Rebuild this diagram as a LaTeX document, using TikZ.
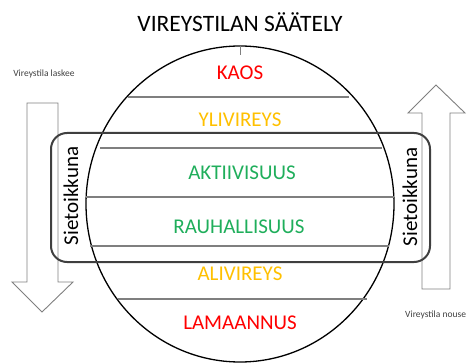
\documentclass[tikz,border=0pt]{standalone}
\usepackage{fontspec}
\setmainfont{Carlito}
\definecolor{punainen}{HTML}{FF0000}
\definecolor{keltainen}{HTML}{FFC000}
\definecolor{vihrea}{HTML}{1FAE5B}
\definecolor{harmaa}{HTML}{7F7F7F}
\definecolor{tumma}{HTML}{3F3F3F}
\begin{document}
\begin{tikzpicture}[x=1pt,y=-1pt,
    tila/.style={font=\fontsize{21}{25}\selectfont},
    pieni/.style={font=\fontsize{9.5}{11}\selectfont,text=tumma}]
\useasboundingbox (0,0) rectangle (468,363);
% otsikko
\node (otsikko) at (240,22) {\fontsize{23.5}{28}\selectfont VIREYSTILAN SÄÄTELY};

% nuolet
\draw[harmaa,line width=.9pt] (27,103)--(58,103)--(58,282)--(73,282)--(42,312)--(12,282)--(27,282)--cycle;
\draw[harmaa,line width=.9pt] (422,289)--(450,289)--(450,113)--(465,113)--(436,85)--(408,113)--(422,113)--cycle;
\node[pieni] (laskee) at (44,74) {Vireystila laskee};
\node[pieni,anchor=west,inner sep=0pt] (nousee) at (405,315) {Vireystila nouse};

% pallo ja rajat
\draw[line width=1.3pt] (240,204) ellipse [x radius=154pt, y radius=158pt];
\draw[harmaa,line width=1pt] (240,46)--(240,55);
\foreach \y/\a/\b in {97/128/349,148/100/382,197/86/394,246/90/389,299/118/367}
{
    \draw[harmaa,line width=1.2pt] (\a,\y)--(\b,\y);
}

% sietoikkuna
\draw[tumma,line width=2pt,rounded corners=16pt] (51,133) rectangle (430,262);
\node[tila,rotate=90] (sieto1) at (71,196) {Sietoikkuna};
\node[tila,rotate=90] (sieto2) at (410,197) {Sietoikkuna};

% tilat
\node[tila,text=punainen] (kaos) at (240,73) {KAOS};
\node[tila,text=keltainen] (yli) at (240,120) {YLIVIREYS};
\node[tila,text=vihrea] (akt) at (242,173) {AKTIIVISUUS};
\node[tila,text=vihrea] (rauh) at (239,227) {RAUHALLISUUS};
\node[tila,text=keltainen] (ali) at (240,274) {ALIVIREYS};
\node[tila,text=punainen] (lama) at (240,323) {LAMAANNUS};
\end{tikzpicture}
\end{document}
